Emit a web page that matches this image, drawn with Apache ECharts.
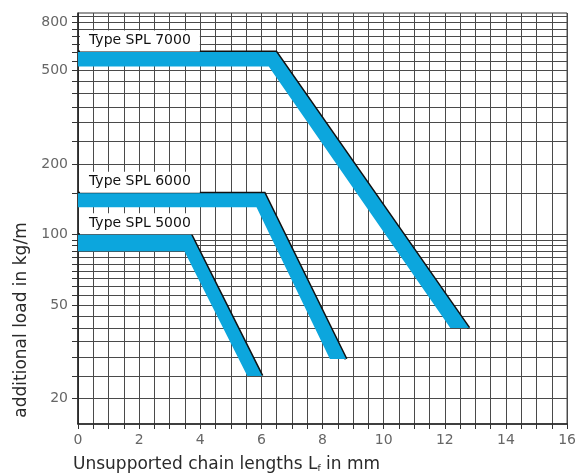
<!DOCTYPE html>
<html>
<head>
<meta charset="utf-8">
<script src="https://cdn.jsdelivr.net/npm/echarts@6/dist/echarts.min.js"></script>
<style>
html, body { margin: 0; padding: 0; background: #fff; }
#chart { width: 579px; height: 475px; }
</style>
</head>
<body>
<div id="chart"></div>
<script>
// Unsupported chain length (mm) axis
const lengthMin = 0;
const lengthMax = 16;
const lengthStep = 0.5;
const lengthLabels = [0, 2, 4, 6, 8, 10, 12, 14, 16];

// Additional load (kg/m) log axis
const loadMin = 15.6;
const loadMax = 880;
const loadLabels = [20, 50, 100, 200, 500, 800];
const loadGridLines = [20, 25, 30, 35, 40, 45, 50, 55, 60, 65, 70, 75, 80, 85, 90, 95, 100,
  150, 200, 250, 300, 350, 400, 450, 500, 550, 600, 650, 700, 750, 800, 850];

// Load bands: outline runs along the upper edge (flat part, knee, end),
// then back along the lower edge
const bandNames = ['Type SPL 7000', 'Type SPL 6000', 'Type SPL 5000'];
const spl7000Length = [0, 6.48, 12.79, 12.18, 6.24, 0];
const spl7000Load = [600, 600, 40, 40, 520, 520];
const spl6000Length = [0, 6.1, 8.77, 8.24, 5.84, 0];
const spl6000Load = [150, 150, 29.5, 29.5, 131, 131];
const spl5000Length = [0, 3.7, 6.02, 5.54, 3.48, 0];
const spl5000Load = [100, 100, 25, 25, 85, 85];

const bands = [
  { name: bandNames[0], length: spl7000Length, load: spl7000Load },
  { name: bandNames[1], length: spl6000Length, load: spl6000Load },
  { name: bandNames[2], length: spl5000Length, load: spl5000Load }
];

const BAND_COLOR = '#0ca6dd';
const GRID_COLOR = '#4a4a4a';
const FONT = '"DejaVu Sans", sans-serif';

function bandSeries(band) {
  return {
    type: 'custom',
    name: band.name,
    coordinateSystem: 'cartesian2d',
    data: [[band.length[0], band.load[0]]],
    clip: true,
    renderItem: function (params, api) {
      const pts = band.length.map(function (len, i) {
        return api.coord([len, band.load[i]]);
      });
      const upperEdge = pts.slice(0, 3);
      return {
        type: 'group',
        children: [
          {
            type: 'polyline',
            shape: { points: upperEdge },
            style: { stroke: '#111', lineWidth: 3, fill: null }
          },
          {
            type: 'polygon',
            shape: { points: pts },
            style: { fill: BAND_COLOR, stroke: null }
          },
          {
            type: 'text',
            x: pts[0][0] + 2,
            y: pts[0][1] - 0.5,
            style: {
              text: band.name,
              font: '14px ' + FONT,
              fill: '#111',
              align: 'left',
              verticalAlign: 'bottom',
              backgroundColor: '#fff',
              padding: [3, 9, 4, 9]
            }
          }
        ]
      };
    }
  };
}

const chart = echarts.init(document.getElementById('chart'), null, { renderer: 'canvas' });

chart.setOption({
  backgroundColor: '#fff',
  animation: false,
  grid: {
    left: 78, right: 2, top: 13, bottom: 51,
    show: true, borderColor: '#333', borderWidth: 1, backgroundColor: 'transparent'
  },
  xAxis: {
    type: 'value',
    min: lengthMin,
    max: lengthMax,
    interval: lengthStep,
    axisLine: { show: true, lineStyle: { color: '#222', width: 1.5 } },
    axisTick: { show: true, length: 5, lineStyle: { color: '#333' } },
    axisLabel: {
      customValues: lengthLabels,
      color: '#666', fontSize: 14, fontFamily: FONT, margin: 9
    },
    splitLine: { show: true, lineStyle: { color: GRID_COLOR, width: 1 } }
  },
  yAxis: {
    type: 'log',
    logBase: 10,
    min: loadMin,
    max: loadMax,
    axisLine: { show: true, lineStyle: { color: '#222', width: 1.5 } },
    axisTick: { show: true, length: 6, customValues: loadGridLines, lineStyle: { color: '#333' } },
    axisLabel: {
      customValues: loadLabels,
      color: '#666', fontSize: 14, fontFamily: FONT, margin: 10
    },
    splitLine: { show: true, lineStyle: { color: GRID_COLOR, width: 1 } },
    minorTick: { show: false },
    minorSplitLine: { show: false }
  },
  graphic: [
    {
      type: 'text',
      x: 22, y: 320,
      rotation: Math.PI / 2,
      style: {
        text: 'additional load in kg/m',
        font: '17px ' + FONT,
        fill: '#2a2a2a',
        align: 'center',
        verticalAlign: 'middle'
      }
    },
    {
      type: 'text',
      x: 73, y: 465,
      style: {
        text: 'Unsupported chain lengths L{s|f} in mm',
        font: '17px ' + FONT,
        fill: '#2a2a2a',
        align: 'left',
        verticalAlign: 'middle',
        rich: {
          s: { fontSize: 9, fontFamily: FONT, fill: '#2a2a2a', verticalAlign: 'bottom', padding: [6, 0, 0, 0] }
        }
      }
    }
  ],
  series: bands.map(bandSeries)
});
</script>
</body>
</html>
